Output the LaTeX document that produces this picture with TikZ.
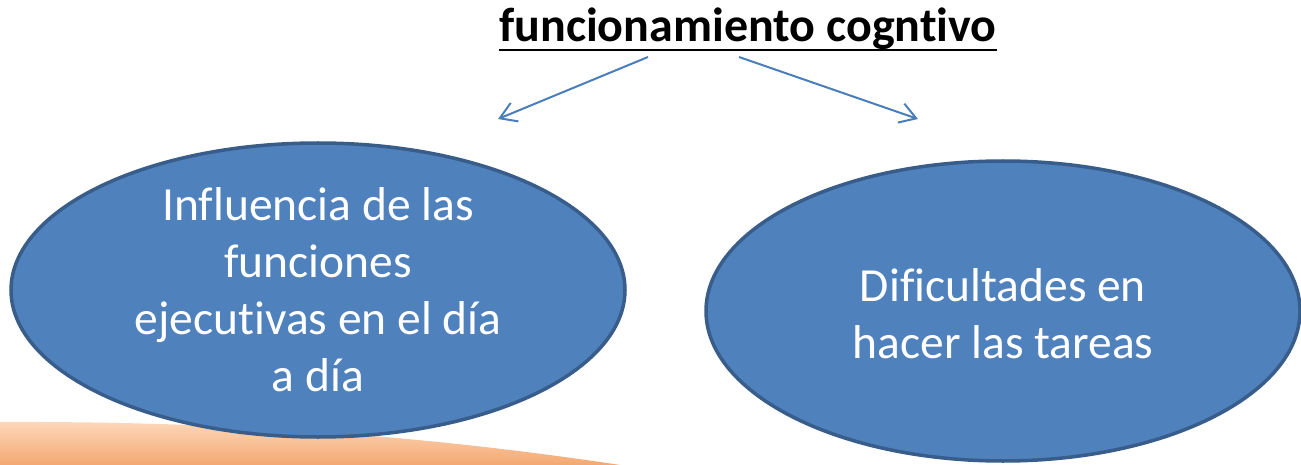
\documentclass[tikz,border=0pt]{standalone}
\usepackage{fontspec}
\setmainfont{Carlito}[RawFeature={-liga;-clig;-calt;-dlig}]
\usetikzlibrary{arrows.meta, shapes.geometric, positioning}
\definecolor{ovalFill}{HTML}{4F81BD}
\definecolor{ovalLine}{HTML}{385D8A}
\definecolor{arrowBlue}{HTML}{4A7EBB}
\definecolor{peachLight}{HTML}{FDD8BA}
\definecolor{peachDark}{HTML}{F3A56D}
\tikzset{
    ideaOval/.style={ellipse, draw=ovalLine, line width=3.5pt, fill=ovalFill, text=white, align=center, inner sep=0pt, font=\fontsize{47.5}{57}\selectfont},
    titleText/.style={font=\fontsize{48}{56}\selectfont\bfseries, inner sep=0pt},
    titleRule/.style={line width=2.5pt},
    linkArrow/.style={-{Straight Barb[length=16pt, width=20pt]}, arrowBlue, line width=2pt},
}

\begin{document}
\begin{tikzpicture}[x=1pt, y=-1pt]
    \useasboundingbox (0, 0) rectangle (1301, 465);

    % orange band at the bottom
    \shade[top color=peachLight, bottom color=peachDark]
        (0, 422) .. controls (260, 421) and (460, 440) .. (640, 468) -- (0, 468) -- cycle;

    % title, underlined
    \node[titleText, anchor=base] (title) at (748, 42) {funcionamiento cogntivo};
    \draw[titleRule] ([yshift=-8pt]title.base west) -- ([yshift=-8pt]title.base east);

    % ovals
    \node[ideaOval, minimum width=614pt, minimum height=294pt] (influence) at (318, 290)
        {Influencia de las\\funciones\\ejecutivas en el día\\a día};
    \node[ideaOval, minimum width=594pt, minimum height=300pt] (tasks) at (1003, 311)
        {\raisebox{-8pt}[\height][\depth]{\begin{tabular}{@{}c@{}}Dificultades en\\hacer las tareas\end{tabular}}};

    % arrows
    \coordinate (leftFrom) at (648, 57);
    \coordinate (leftTo) at (498, 119);
    \coordinate (rightFrom) at (739, 57);
    \coordinate (rightTo) at (918, 119);
    \draw[linkArrow] (leftFrom) -- (leftTo);
    \draw[linkArrow] (rightFrom) -- (rightTo);

\end{tikzpicture}
\end{document}
